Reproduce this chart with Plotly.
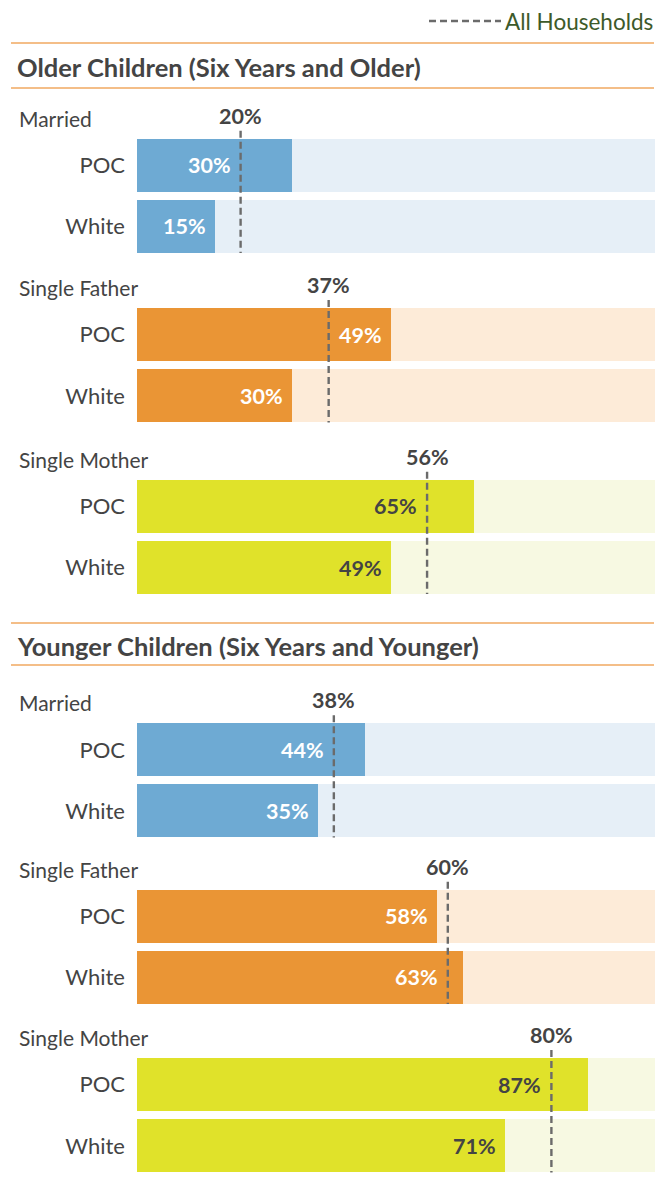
import plotly.graph_objects as go

# ---------------- data ----------------
sections = ["Older Children (Six Years and Older)", "Younger Children (Six Years and Younger)"]
groups = ["Married", "Single Father", "Single Mother"]
races = ["POC", "White"]

older_poc = [30, 49, 65]
older_white = [15, 30, 49]
older_all = [20, 37, 56]

younger_poc = [44, 58, 87]
younger_white = [35, 63, 71]
younger_all = [38, 60, 80]

# ---------------- style ----------------
PAGE_W, PAGE_H = 667, 1195
OFF = 8                       # default page margin of the html body
W, H = PAGE_W - OFF, PAGE_H - OFF
FONT = "Source Sans Pro, Lato, sans-serif"
TXT = "#444444"
dark = {"Married": "#6eaad3", "Single Father": "#ea9535", "Single Mother": "#e0e22a"}
light = {"Married": "#e6eff7", "Single Father": "#fdebd8", "Single Mother": "#f7f9e2"}
val_col = {"Married": "white", "Single Father": "white", "Single Mother": "#444444"}
RULE = "#f0a960"
DASH = dict(color="#6b6b6b", width=2.4, dash="7px,4px")

X0, X1 = 137, 655            # page-pixel extent of 0..100%
PITCH = 61.2                 # px between row centres
BARW = 0.87                  # bar thickness as fraction of pitch
EXTRA = 12                   # px of headroom above first row (for dashed line)
poc_centres = [165.3, 334.7, 506.3, 749.8, 916.3, 1084.7]
header_rules = [(43, 88), (623, 665)]
title_y = [67, 646]
legend_y = 21

def px(p):
    return (p - OFF) / W

def py(p):
    return 1 - (p - OFF) / H

fig = go.Figure()
layout = dict(width=W, height=H, margin=dict(l=0, r=0, t=0, b=0),
              paper_bgcolor="white", plot_bgcolor="white", showlegend=False,
              barmode="overlay", bargap=0)
shapes, annotations = [], []

data = [(older_poc, older_white, older_all), (younger_poc, younger_white, younger_all)]
k = 0
for s, (pocv, whv, allv) in enumerate(data):
    for g, grp in enumerate(groups):
        k += 1
        xa = "x" if k == 1 else f"x{k}"
        ya = "y" if k == 1 else f"y{k}"
        vals = [pocv[g], whv[g]]
        avg = allv[g]
        c = poc_centres[k - 1]
        top = c - PITCH / 2 - EXTRA
        bot = c + PITCH * 1.5
        layout[f"xaxis{'' if k == 1 else k}"] = dict(
            domain=[px(X0), px(X1)], range=[0, 100], visible=False, fixedrange=True,
            anchor=ya)
        layout[f"yaxis{'' if k == 1 else k}"] = dict(
            domain=[py(bot), py(top)], type="category", categoryorder="array",
            categoryarray=races, range=[1.5, -0.5 - EXTRA / PITCH], autorange=False,
            anchor=xa, showgrid=False, zeroline=False, showline=False, ticks="",
            ticklabelstandoff=11,
            tickfont=dict(family=FONT, size=22, color=TXT), fixedrange=True)
        # track
        fig.add_trace(go.Bar(x=[100, 100], y=races, orientation="h", width=BARW,
                             marker=dict(color=light[grp], line=dict(width=0)),
                             xaxis=xa, yaxis=ya, hoverinfo="skip"))
        # values
        fig.add_trace(go.Bar(x=vals, y=races, orientation="h", width=BARW,
                             marker=dict(color=dark[grp], line=dict(width=0)),
                             xaxis=xa, yaxis=ya,
                             hovertemplate="%{y}: %{x}%<extra></extra>"))
        # dashed "All households" line
        ytop = -BARW / 2 - 8 / PITCH
        shapes.append(dict(type="line", xref=xa, yref=ya, x0=avg, x1=avg,
                           y0=ytop, y1=1 + BARW / 2, line=DASH, layer="above"))
        annotations.append(dict(xref=xa, yref=ya, x=avg, y=ytop, yanchor="bottom",
                                xanchor="center", yshift=0, showarrow=False,
                                text=f"<b>{avg}%</b>",
                                font=dict(family=FONT, size=21.5, color=TXT)))
        # group label
        annotations.append(dict(xref="paper", yref=ya, x=px(17), y=ytop,
                                yanchor="bottom", xanchor="left", yshift=-2,
                                showarrow=False, text=grp,
                                font=dict(family=FONT, size=21, color=TXT)))
        # value labels
        pxper = (X1 - X0) / 100
        for i, v in enumerate(vals):
            lab_w = 46
            if v > avg and (v - avg) * pxper < lab_w + 16:
                xpos, shift = avg, -8
            else:
                xpos, shift = v, -7
            annotations.append(dict(xref=xa, yref=ya, x=xpos, y=i, xanchor="right",
                                    yanchor="middle", xshift=shift, showarrow=False,
                                    text=f"<b>{v}%</b>",
                                    font=dict(family=FONT, size=21.5, color=val_col[grp])))

# section headers
for s, name in enumerate(sections):
    for ry in header_rules[s]:
        shapes.append(dict(type="line", xref="paper", yref="paper",
                           x0=px(11), x1=px(654), y0=py(ry), y1=py(ry),
                           line=dict(color=RULE, width=1.6)))
    annotations.append(dict(xref="paper", yref="paper", x=px(15), y=py(title_y[s]),
                            xanchor="left", yanchor="middle", showarrow=False,
                            text=f"<b>{name}</b>",
                            font=dict(family=FONT, size=25.5, color=TXT)))

# legend
shapes.append(dict(type="line", xref="paper", yref="paper", x0=px(429), x1=px(501),
                   y0=py(legend_y), y1=py(legend_y), line=DASH))
annotations.append(dict(xref="paper", yref="paper", x=px(655), y=py(legend_y),
                        xanchor="right", yanchor="middle", showarrow=False,
                        text="All Households",
                        font=dict(family=FONT, size=22.5, color="#3d5a2a")))

layout["shapes"] = shapes
layout["annotations"] = annotations
fig.update_layout(**layout)
fig.write_html("out.html")
